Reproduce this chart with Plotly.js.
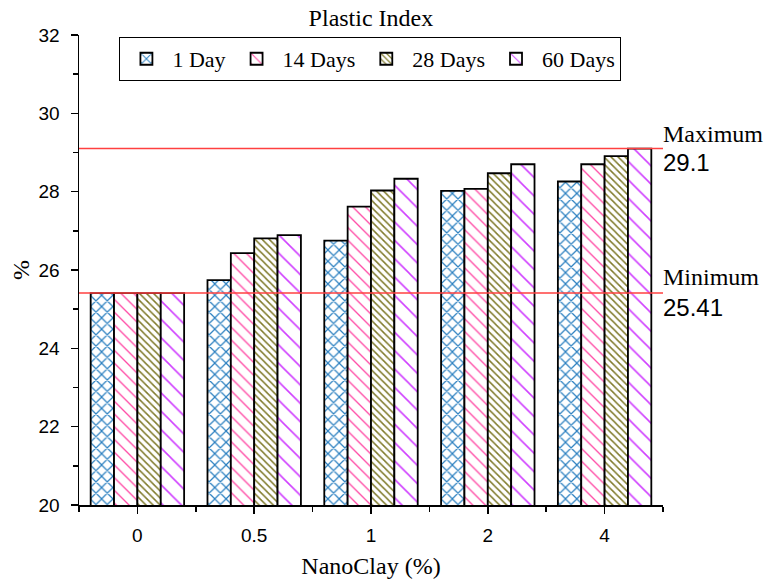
<!DOCTYPE html>
<html>
<head>
<meta charset="utf-8">
<script src="https://cdn.plot.ly/plotly-3.0.1.min.js"></script>
<style>html,body{margin:0;padding:0;background:#fff}#chart{width:768px;height:582px}</style>
</head>
<body>
<div id="chart"></div>
<script>
const categories = ["0", "0.5", "1", "2", "4"];
const seriesNames = ["1 Day", "14 Days", "28 Days", "60 Days"];
const day1 = [25.41, 25.74, 26.75, 28.02, 28.26];
const day14 = [25.41, 26.43, 27.62, 28.07, 28.70];
const day28 = [25.41, 26.81, 28.03, 28.47, 28.91];
const day60 = [25.41, 26.89, 28.33, 28.70, 29.10];
const maxValue = 29.1;
const minValue = 25.41;
const maxLabel = "29.1";
const minLabel = "25.41";
const yTicks = [20, 22, 24, 26, 28, 30, 32];

const seriesValues = [day1, day14, day28, day60];
const colors = ["#2a7fc0", "#ff4aa5", "#7f7a2a", "#d040ff"];
const shapesP = ["x", "\\", "\\", "\\"];
const sizes = [8, 9, 5, 13];
const solid = [0.28, 0.15, 0.3, 0.12];
const xIdx = categories.map((c, i) => i);

const serif = "Liberation Serif, Times New Roman, serif";
const sans = "Liberation Sans, Arial, sans-serif";

const traces = seriesValues.map((vals, k) => ({
  type: "bar",
  name: seriesNames[k],
  x: xIdx,
  y: vals,
  marker: {
    color: "#ffffff",
    line: {color: "#000000", width: 1.8},
    pattern: {shape: shapesP[k], fgcolor: colors[k], bgcolor: "#ffffff", size: sizes[k], solidity: solid[k], fillmode: "replace"}
  }
}));

const layout = {
  width: 768, height: 582,
  margin: {l: 79, r: 105, t: 35, b: 77},
  paper_bgcolor: "#ffffff", plot_bgcolor: "#ffffff",
  barmode: "group", bargap: 0.2, bargroupgap: 0,
  title: {text: "Plastic Index", font: {family: serif, size: 24, color: "#000"}, x: 0.483, xanchor: "center", y: 1 - 18/582, yanchor: "middle"},
  showlegend: true,
  legend: {orientation: "h", x: 0.499, xanchor: "center", y: 0.949, yanchor: "middle",
    bordercolor: "#000", borderwidth: 1, font: {family: serif, size: 22, color: "#000"},
    itemwidth: 42, traceorder: "normal", tracegroupgap: 0},
  xaxis: {
    range: [-0.5, 4.5], tickmode: "array", tickvals: xIdx, ticktext: categories,
    showline: true, linecolor: "#000", linewidth: 1.5, mirror: false,
    ticks: "outside", ticklen: 7, tickwidth: 1.5, tickcolor: "#000",
    minor: {tickmode: "linear", tick0: -0.5, dtick: 1, ticks: "outside", ticklen: 5, tickwidth: 1.5, tickcolor: "#000", showgrid: false},
    showgrid: false, zeroline: false,
    ticklabelstandoff: 6,
    tickfont: {family: sans, size: 19, color: "#000"},
    title: {text: "NanoClay (%)", font: {family: serif, size: 24, color: "#000"}, standoff: 12}
  },
  yaxis: {
    range: [20, 32], tickmode: "array", tickvals: yTicks,
    showline: true, linecolor: "#000", linewidth: 1.5,
    ticks: "outside", ticklen: 7, tickwidth: 1.5, tickcolor: "#000",
    minor: {tickmode: "linear", tick0: 21, dtick: 2, ticks: "outside", ticklen: 5, tickwidth: 1.5, tickcolor: "#000", showgrid: false},
    showgrid: false, zeroline: false,
    ticklabelstandoff: 7,
    tickfont: {family: sans, size: 19, color: "#000"},
    title: {text: "%", font: {family: serif, size: 24, color: "#000"}, standoff: 2}
  },
  shapes: [
    {type: "line", xref: "paper", x0: 0, x1: 1, yref: "y", y0: maxValue, y1: maxValue, line: {color: "#ff4040", width: 1.5}, layer: "above"},
    {type: "line", xref: "paper", x0: 0, x1: 1, yref: "y", y0: minValue, y1: minValue, line: {color: "#ff4040", width: 1.5}, layer: "above"}
  ],
  annotations: [
    {xref: "paper", x: 1, xanchor: "left", xshift: -2, yref: "y", y: maxValue, yanchor: "middle", yshift: 15, text: "Maximum", showarrow: false, font: {family: serif, size: 24, color: "#000"}},
    {xref: "paper", x: 1, xanchor: "left", xshift: -2, yref: "y", y: maxValue, yanchor: "middle", yshift: -14, text: maxLabel, showarrow: false, font: {family: sans, size: 24, color: "#000"}},
    {xref: "paper", x: 1, xanchor: "left", xshift: -2, yref: "y", y: minValue, yanchor: "middle", yshift: 16, text: "Minimum", showarrow: false, font: {family: serif, size: 24, color: "#000"}},
    {xref: "paper", x: 1, xanchor: "left", xshift: -2, yref: "y", y: minValue, yanchor: "middle", yshift: -14, text: minLabel, showarrow: false, font: {family: sans, size: 24, color: "#000"}}
  ]
};

Plotly.newPlot("chart", traces, layout, {displayModeBar: false, staticPlot: true});
</script>
</body>
</html>
